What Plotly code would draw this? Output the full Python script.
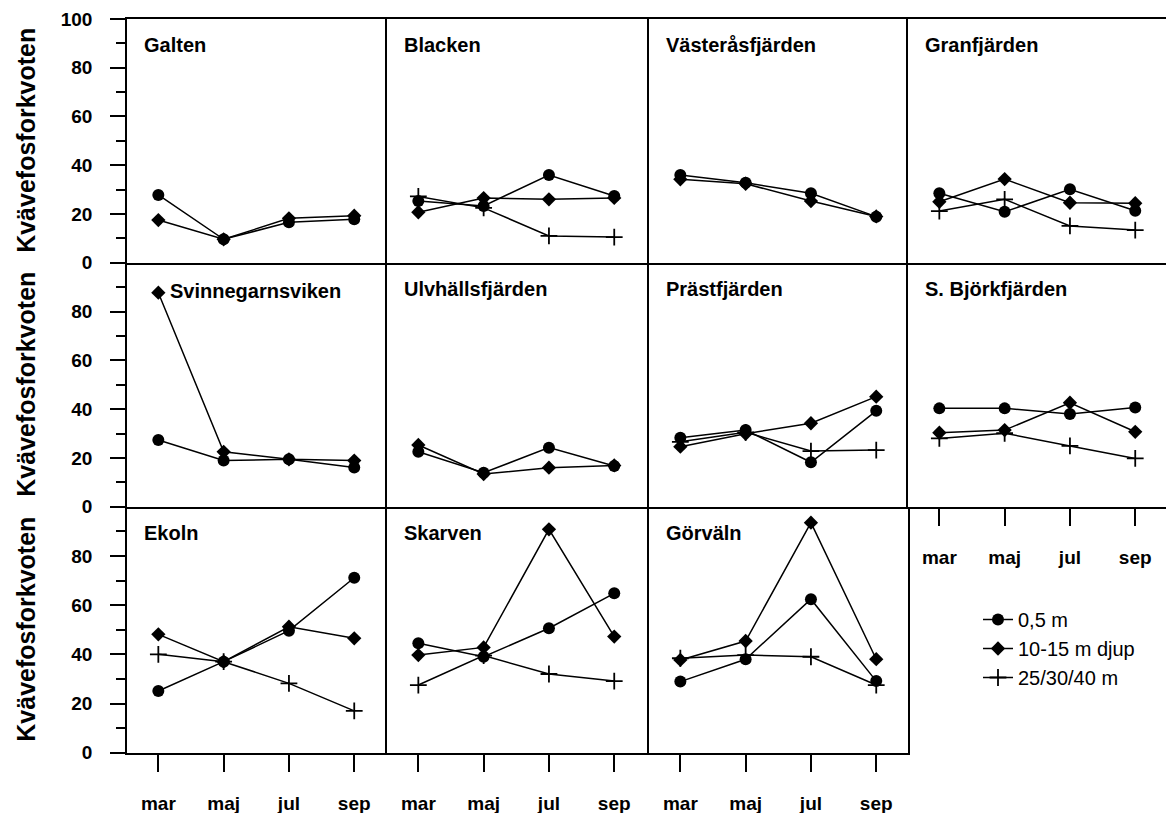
import plotly.graph_objects as go
from plotly.subplots import make_subplots

months = ["mar", "maj", "jul", "sep"]
lakes = ["Galten", "Blacken", "Västeråsfjärden", "Granfjärden",
         "Svinnegarnsviken", "Ulvhällsfjärden", "Prästfjärden", "S. Björkfjärden",
         "Ekoln", "Skarven", "Görväln"]
series_names = ["0,5 m", "10-15 m djup", "25/30/40 m"]

depth_05m = [
    [27.8, 9.6, 16.6, 17.8],
    [25.3, 23.3, 36.0, 27.4],
    [36.0, 32.8, 28.5, 18.9],
    [28.5, 20.9, 30.1, 21.3],
    [27.3, 18.9, 19.4, 16.1],
    [22.5, 13.9, 24.2, 16.7],
    [28.3, 31.4, 18.2, 39.3],
    [40.3, 40.3, 38.0, 40.7],
    [25.1, 37.0, 49.6, 71.1],
    [44.5, 39.0, 50.6, 64.8],
    [28.9, 38.0, 62.4, 29.1],
]
depth_10_15m = [
    [17.5, 9.6, 18.2, 19.3],
    [20.7, 26.5, 26.0, 26.6],
    [34.2, 32.4, 25.3, 19.0],
    [25.0, 34.3, 24.6, 24.4],
    [87.7, 22.5, 19.4, 18.9],
    [25.3, 13.4, 16.0, 16.9],
    [24.6, 29.9, 34.2, 45.1],
    [30.3, 31.4, 42.6, 30.7],
    [48.1, 37.0, 51.2, 46.5],
    [39.7, 42.8, 90.8, 47.2],
    [37.7, 45.4, 93.5, 38.0],
]
depth_25_40m = [
    None,
    [27.2, 22.5, 11.0, 10.5],
    None,
    [21.2, 26.0, 15.1, 13.4],
    None,
    None,
    [26.6, 30.5, 22.8, 23.2],
    [28.0, 30.1, 24.9, 19.8],
    [40.0, 37.0, 28.2, 17.0],
    [27.5, 39.5, 32.0, 29.1],
    [38.4, 39.7, 39.0, 27.5],
]
y_ticks_major = [0, 20, 40, 60, 80, 100]
y_ticks_minor = [10, 30, 50, 70, 90]

FONT = "Liberation Sans, Arial, Helvetica, sans-serif"
W, H = 1166, 813
ML, MR, MT, MB = 127, 0, 19, 60
PW, PH = W - ML - MR, H - MT - MB

col_px = [127, 387, 649, 908, 1166]
row_px = [19, 262.7, 506.7, 752.7]
px_per_unit = 65.3

fig = make_subplots(rows=3, cols=4, horizontal_spacing=0, vertical_spacing=0)

styles = [
    dict(symbol="circle", size=12),
    dict(symbol="diamond", size=11),
    dict(symbol="cross-thin", size=12, line=dict(width=1.8, color="black")),
]
all_series = [depth_05m, depth_10_15m, depth_25_40m]

for i, lake in enumerate(lakes):
    r, c = i // 4 + 1, i % 4 + 1
    for s, (data, name, st) in enumerate(zip(all_series, series_names, styles)):
        vals = data[i]
        if vals is None:
            continue
        fig.add_trace(go.Scatter(
            x=months, y=vals, mode="lines+markers", name=name,
            legendgroup=name, showlegend=(i == 1),
            line=dict(color="black", width=1.5),
            marker=dict(color="black", **st),
        ), row=r, col=c)

annotations = []
for r in range(1, 4):
    for c in range(1, 5):
        n = (r - 1) * 4 + c
        xa = f"xaxis{n}" if n > 1 else "xaxis"
        ya = f"yaxis{n}" if n > 1 else "yaxis"
        x0 = (col_px[c - 1] - ML) / PW
        x1 = min(1.0, (col_px[c] - ML) / PW)
        y1 = 1 - (row_px[r - 1] - MT) / PH
        y0 = max(0.0, 1 - (row_px[r] - MT) / PH)
        wpx = col_px[c] - col_px[c - 1]
        if r == 3 and c == 4:
            fig.update_layout({xa: dict(domain=[x0, x1], visible=False),
                               ya: dict(domain=[y0, y1], visible=False)})
            continue
        show_x = (r == 3) or (r == 2 and c == 4)
        xdict = dict(
            domain=[x0, x1], type="category",
            range=[-0.48, -0.48 + wpx / px_per_unit],
            showline=True, linecolor="black", linewidth=1.6, mirror=(r == 1),
            showgrid=False, zeroline=False,
            ticks="outside" if show_x else "", ticklen=17, tickwidth=1.5, tickcolor="black",
            showticklabels=show_x,
            tickfont=dict(family=FONT, size=19, color="black", weight="bold"),
            ticklabelstandoff=16,
        )
        first_col = (c == 1)
        ydict = dict(
            domain=[y0, y1], range=[0, 100],
            showline=True, linecolor="black", linewidth=1.6,
            mirror=(r == 3 and c == 3),
            showgrid=False, zeroline=False,
            ticks="outside" if first_col else "", ticklen=15, tickwidth=1.5, tickcolor="black",
            tickmode="array",
            tickvals=(y_ticks_major if r == 1 else y_ticks_major[:-1]) if first_col else [],
            showticklabels=first_col,
            tickfont=dict(family=FONT, size=19, color="black", weight="bold"),
            ticklabelstandoff=14,
        )
        if first_col:
            ydict["minor"] = dict(tickvals=y_ticks_minor, ticks="outside", ticklen=9,
                                  tickwidth=1.5, tickcolor="black", showgrid=False)
        fig.update_layout({xa: xdict, ya: ydict})

        idx = (r - 1) * 4 + (c - 1)
        if idx < len(lakes):
            xs, ys = 15, -26
            if lakes[idx] == "Svinnegarnsviken":
                xs, ys = 41, -28
            annotations.append(dict(
                text=lakes[idx], xref=f"x{n if n > 1 else ''} domain",
                yref=f"y{n if n > 1 else ''} domain",
                x=0, y=1, xanchor="left", yanchor="middle", xshift=xs, yshift=ys,
                showarrow=False,
                font=dict(family=FONT, size=20, color="black", weight="bold"),
            ))

for r in range(1, 4):
    yc = (row_px[r - 1] + row_px[r]) / 2
    annotations.append(dict(
        text="Kvävefosforkvoten", xref="paper", yref="paper",
        x=(26 - ML) / PW, y=1 - (yc - MT) / PH, xanchor="center", yanchor="middle",
        textangle=-90, showarrow=False,
        font=dict(family=FONT, size=25, color="black", weight="bold"),
    ))

fig.update_layout(
    width=W, height=H,
    margin=dict(l=ML, r=MR, t=MT, b=MB),
    paper_bgcolor="white", plot_bgcolor="white",
    annotations=annotations,
    showlegend=True,
    legend=dict(
        x=(978 - ML) / PW, y=1 - (600 - MT) / PH, xanchor="left", yanchor="top",
        font=dict(family=FONT, size=20, color="black"),
        bgcolor="rgba(0,0,0,0)", borderwidth=0, tracegroupgap=0,
    ),
)

fig.write_html("out.html")
